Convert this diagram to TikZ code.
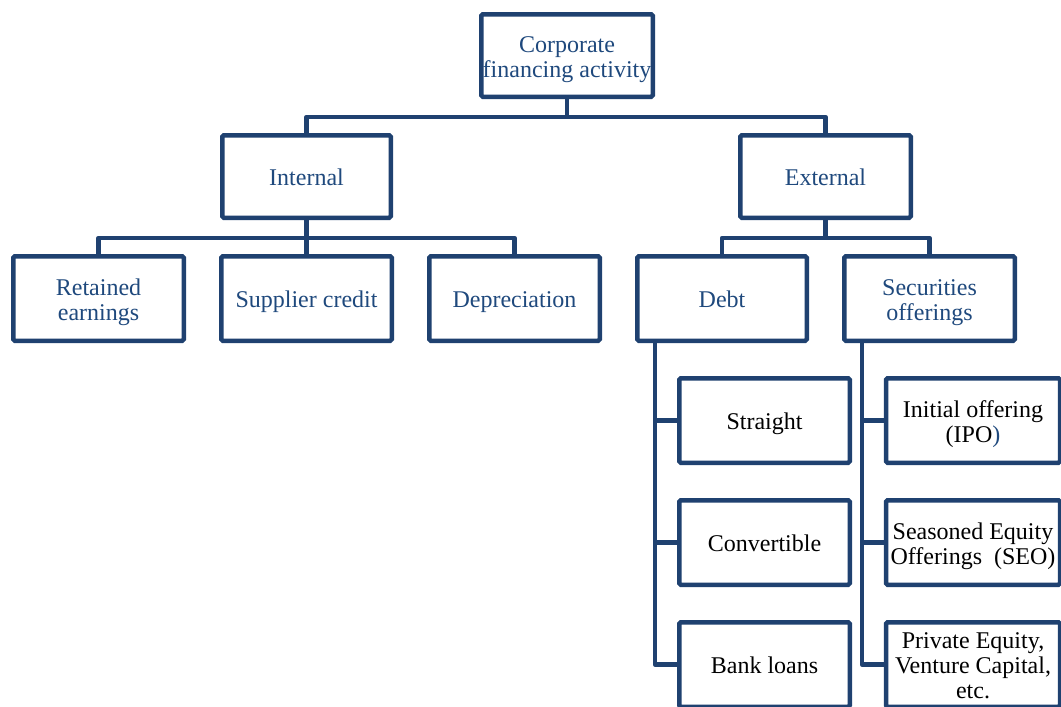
\documentclass[tikz,border=0pt]{standalone}
\usepackage{fontspec}
\setmainfont{Liberation Serif}
\definecolor{linec}{HTML}{1F4170}
\definecolor{textc}{HTML}{1F497D}
\newcommand{\boxtext}[1]{\raisebox{-4pt}[\height][\depth]{\setlength{\tabcolsep}{0pt}\begin{tabular}{c}#1\end{tabular}}}
\begin{document}
\begin{tikzpicture}[x=1pt,y=-1pt,
  box/.style={draw=linec,line width=4.5pt,rounded corners=1.5pt,fill=white,
    minimum width=170.5pt,minimum height=84.5pt,inner sep=0pt,
    font=\fontsize{24}{25}\selectfont,text=textc},
  dbox/.style={box,text=black},
  conn/.style={draw=linec,line width=4.5pt,line join=round}]
\useasboundingbox (0,0) rectangle (1061,707);
\clip (0,0) rectangle (1061,707);
\coordinate (t1) at (567,117);
\coordinate (i1) at (306.5,238);
\coordinate (e1) at (825.5,238);
\coordinate (dv) at (655,341);
\coordinate (sv) at (862,341);
\node[box,minimum width=171.5pt,minimum height=82.5pt] (top) at (567,55.5) {\boxtext{Corporate\\financing activity}};
\node[box,minimum width=168.5pt,minimum height=82.5pt] (int) at (306.5,176.5) {\boxtext{Internal}};
\node[box,minimum width=170.5pt,minimum height=82.5pt] (ext) at (825.5,176.5) {\boxtext{External}};
\node[box] (ret) at (98.5,298.5) {\boxtext{Retained\\earnings}};
\node[box] (sup) at (306.5,298.5) {\boxtext{Supplier credit}};
\node[box] (dep) at (514.5,298.5) {\boxtext{Depreciation}};
\node[box,minimum width=169.5pt] (debt) at (722,298.5) {\boxtext{Debt}};
\node[box] (sec) at (929.5,298.5) {\boxtext{Securities\\offerings}};
\node[dbox] (str) at (764.5,420.5) {\boxtext{Straight}};
\node[dbox] (conv) at (764.5,542.5) {\boxtext{Convertible}};
\node[dbox] (bank) at (764.5,664.5) {\boxtext{Bank loans}};
\node[dbox,minimum width=174pt] (ipo) at (973,420.5) {\boxtext{Initial offering\\(IPO\textcolor{textc}{)}}};
\node[dbox,minimum width=174pt] (seo) at (973,542.5) {\boxtext{Seasoned Equity\\Offerings\ \ (SEO)}};
\node[dbox,minimum width=174pt] (pe) at (973,664.5) {\boxtext{Private Equity,\\Venture Capital,\\etc.}};
\draw[conn] (top.south) -- (t1);
\draw[conn] (int.north) |- (t1) -| (ext.north);
\draw[conn] (int.south) -- (i1);
\draw[conn] (ret.north) |- (i1) -| (dep.north);
\draw[conn] (i1) -- (sup.north);
\draw[conn] (ext.south) -- (e1);
\draw[conn] (debt.north) |- (e1) -| (sec.north);
\draw[conn] (dv) |- (bank.west);
\draw[conn] (dv |- str.west) -- (str.west);
\draw[conn] (dv |- conv.west) -- (conv.west);
\draw[conn] (sv) |- (pe.west);
\draw[conn] (sv |- ipo.west) -- (ipo.west);
\draw[conn] (sv |- seo.west) -- (seo.west);
\end{tikzpicture}
\end{document}
